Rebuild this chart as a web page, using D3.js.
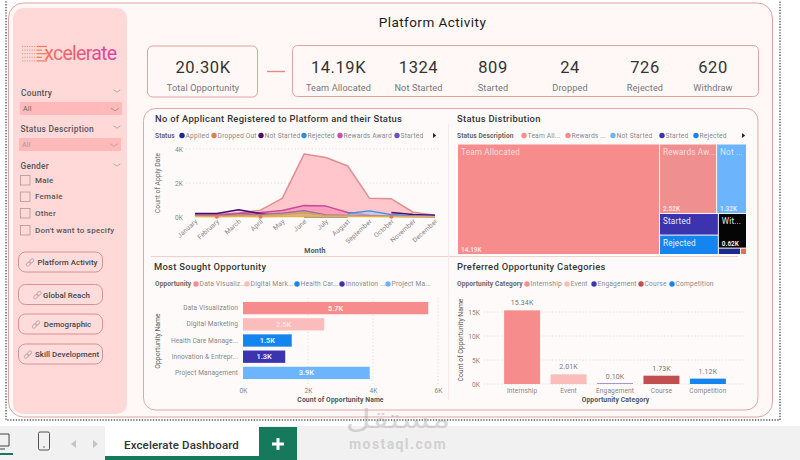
<!DOCTYPE html>
<html>
<head>
<meta charset="utf-8">
<title>Excelerate Dashboard</title>
<script src="https://cdn.jsdelivr.net/npm/d3@7"></script>
<style>
  html, body { margin: 0; padding: 0; background: #fff; overflow: hidden; }
  svg { display: block; font-family: Roboto, "Noto Sans", sans-serif; }
  .axis .domain { display: none; }
  .axis .tick line { display: none; }
  .axis text { fill: #858585; font-size: 6.6px; letter-spacing: .1px; font-family: Roboto, sans-serif; }
</style>
</head>
<body>
<svg id="board" width="800" height="460" viewBox="0 0 800 460"></svg>
<script>
// ---------- data ----------
const kpiTotal = { value: "20.30K", label: "Total Opportunity" };
const kpiValues = ["14.19K", "1324", "809", "24", "726", "620"];
const kpiLabels = ["Team Allocated", "Not Started", "Started", "Dropped", "Rejected", "Withdraw"];

const months = ["January","February","March","April","May","June","July","August","September","October","November","December"];
const teamAllocated = [0.13,0.14,0.24,0.4,1.1,3.7,3.5,3.0,1.1,1.07,0.28,0.1];
const rewardsAward  = [0.1,0.1,0.2,0.26,0.38,0.68,0.64,0.27,0.1,0.05,0.03,0.02];
const notStarted    = [0.2,0.2,0.42,0.2,0.05,null,null,null,null,0.26,0.14,0.1];
const rejected      = [null,null,null,null,null,null,null,0.2,0.36,0.14,0.06,0.03];
const started       = [0.07,0.07,0.1,0.15,0.22,0.38,0.12,0.1,0.06,0.04,0.03,0.02];
const withdrawn     = [0.06,0.06,0.08,0.1,0.16,0.24,0.1,0.08,0.06,0.05,0.04,0.03];
const applied       = [null,null,null,null,null,0.01,0.01,0.01,null,null,null,null];
const dropped       = [0.02,0.01,0.02,0.01,0.02,0.02,0.02,0.02,0.02,0.01,0.02,0.02];

const statusNames  = ["Team Allocated","Rewards Award","Not Started","Started","Rejected","Withdraw","Applied","Dropped Out"];
const statusValues = [14.19,2.52,1.32,0.809,0.726,0.62,0.09,0.024];
const statusTitles = ["Team Allocated","Rewards Aw...","Not ...","Started","Rejected","Wit...","",""];
const statusAmounts = ["14.19K","2.52K","1.32K","","","0.62K","",""];

const opportunityNames  = ["Data Visualization","Digital Marketing","Health Care Manage...","Innovation & Entrepr...","Project Management"];
const opportunityCounts = [5.7,2.5,1.5,1.3,3.9];

const categoryNames  = ["Internship","Event","Engagement","Course","Competition"];
const categoryCounts = [15.34,2.01,0.10,1.73,1.12];

const c = {
  team:"#f68c8c", rewards:"#ef8f8f", notStarted:"#6cb4fb", started:"#3c34ae", rejected:"#1484ef",
  withdraw:"#050505", applied:"#1e2a8c", dropped:"#d5774a",
  border:"#dca4a2", ink:"#333", soft:"#7a7a7a", mute:"#888"
};

const svg = d3.select("#board");
const defs = svg.append("defs");

// ---------- helpers ----------
function label(g, x, y, text, o = {}) {
  return g.append("text").attr("x", x).attr("y", y).text(text)
    .attr("text-anchor", o.anchor || "start")
    .attr("dominant-baseline", "central")
    .attr("font-size", o.size || 8)
    .attr("font-weight", o.weight || 400)
    .attr("letter-spacing", o.spacing === undefined ? 0.2 : o.spacing)
    .attr("fill", o.fill || c.ink)
    .attr("fill-opacity", o.opacity === undefined ? 1 : o.opacity);
}

function chevron(g, x, y, color, w = 5) {
  const h = w * 0.7;
  g.append("path").attr("d", d3.line()([[x - w, y - h / 2], [x, y + h / 2], [x + w, y - h / 2]]))
    .attr("fill", "none").attr("stroke", color).attr("stroke-width", 0.8);
}

function legend(title, titleX, y, names, colors, xs, arrowX) {
  const g = svg.append("g");
  label(g, titleX, y, title, { size: 6.6, weight: 700, fill: "#666", spacing: 0.1 });
  names.forEach((n, i) => {
    g.append("circle").attr("cx", xs[i]).attr("cy", y).attr("r", 2.7).attr("fill", colors[i]);
    label(g, xs[i] + 3.6, y, n, { size: 6.7, fill: "#8a8a8a", spacing: 0.15 });
  });
  if (arrowX) {
    g.append("path").attr("d", d3.line()([[arrowX, y - 2.6], [arrowX + 3.2, y], [arrowX, y + 2.6]]))
      .attr("fill", "#222");
  }
}

function styleAxis(sel) { sel.attr("class", "axis"); return sel; }

function grid(orient, scale, values, a, b) {
  const g = svg.append("g");
  g.selectAll("line").data(values).join("line")
    .attr(orient === "h" ? "x1" : "y1", a).attr(orient === "h" ? "x2" : "y2", b)
    .attr(orient === "h" ? "y1" : "x1", d => scale(d)).attr(orient === "h" ? "y2" : "x2", d => scale(d))
    .attr("stroke", "#d4d0d0").attr("stroke-width", 0.8).attr("stroke-dasharray", "1 2.4");
}

// ---------- page frame ----------
svg.append("rect").attr("width", 800).attr("height", 460).attr("fill", "#fff");
svg.append("rect").attr("x", 6).attr("y", -3).attr("width", 774).attr("height", 423)
  .attr("fill", "#fff").attr("stroke", "#555").attr("stroke-width", 1.4).attr("stroke-dasharray", "1.3 1.5");
svg.append("rect").attr("x", 8.5).attr("y", 3).attr("width", 764).attr("height", 414).attr("rx", 15)
  .attr("fill", "#fff8f7").attr("stroke", c.border).attr("stroke-width", 1);

// ---------- sidebar ----------
const side = svg.append("g");
side.append("rect").attr("x", 13).attr("y", 8).attr("width", 114).attr("height", 406).attr("rx", 10).attr("fill", "#ffd9d8");

const logoFill = defs.append("linearGradient").attr("id", "logoFill")
  .attr("gradientUnits", "userSpaceOnUse").attr("x1", 22).attr("x2", 118).attr("y1", 0).attr("y2", 0);
logoFill.append("stop").attr("offset", "0").attr("stop-color", "#f0814f");
logoFill.append("stop").attr("offset", ".55").attr("stop-color", "#ea5f72");
logoFill.append("stop").attr("offset", "1").attr("stop-color", "#d63fb0");

d3.range(5).forEach(i => {
  const y = 46.5 + i * 3.6;
  side.append("line").attr("x1", 22).attr("x2", 37).attr("y1", y).attr("y2", y)
    .attr("stroke", "#f08a5c").attr("stroke-width", 0.9).attr("stroke-dasharray", "1.2 1.2");
  side.append("line").attr("x1", 37).attr("x2", i % 2 === 0 ? 47 : 42).attr("y1", y).attr("y2", y)
    .attr("stroke", "#ee7a5a").attr("stroke-width", 1.2);
});
const logo = side.append("text").attr("x", 33).attr("y", 60).attr("font-size", 19.5)
  .attr("letter-spacing", -0.75).attr("fill", "url(#logoFill)");
logo.append("tspan").attr("fill-opacity", 0).text("E");
logo.append("tspan").attr("dx", 1).text("xcelerate");

const slicerText = "#555";
const slicerHead = { size: 8.4, weight: 500, fill: slicerText, spacing: 0.25 };
label(side, 21, 92.5, "Country", slicerHead);
chevron(side, 117, 91, "#b09a9a", 3.5);
side.append("rect").attr("x", 20).attr("y", 102).attr("width", 102).attr("height", 13).attr("fill", "#ffb9b9");
label(side, 23, 109, "All", { size: 7, fill: "#666" });
chevron(side, 115, 109.5, "#988", 4);

label(side, 20.5, 128.5, "Status Description", slicerHead);
chevron(side, 117, 127, "#b09a9a", 3.5);
side.append("rect").attr("x", 19).attr("y", 138).attr("width", 102).attr("height", 13).attr("fill", "#ffb9b9");
label(side, 22, 144.5, "All", { size: 7, fill: "#999" });
chevron(side, 114, 145, "#b99", 4);

label(side, 20.5, 166, "Gender", slicerHead);
chevron(side, 117, 165, "#b09a9a", 3.5);
const genderOptions = ["Male", "Female", "Other", "Don't want to specify"];
const genderRows = [180, 196.5, 213, 230];
genderOptions.forEach((t, i) => {
  side.append("rect").attr("x", 20.5).attr("y", genderRows[i] - 4.5).attr("width", 9.5).attr("height", 9.5)
    .attr("fill", "none").attr("stroke", "#a98c8c").attr("stroke-width", 0.7);
  label(side, 35, genderRows[i], t, { size: 8, weight: 500, fill: "#555", spacing: 0.25 });
});

function linkIcon(g, x, y) {
  const k = g.append("g").attr("transform", `translate(${x},${y}) rotate(-45)`)
    .attr("fill", "none").attr("stroke", "#c9a9ae").attr("stroke-width", 1);
  k.append("rect").attr("x", -4.6).attr("y", -1.5).attr("width", 5).attr("height", 3).attr("rx", 1.5);
  k.append("rect").attr("x", -0.4).attr("y", -1.5).attr("width", 5).attr("height", 3).attr("rx", 1.5);
}
const navLabels = ["Platform Activity", "Global Reach", "Demographic", "Skill Development"];
const navRows = [252, 284.5, 314, 344];
const navText = [67.5, 66.5, 67.5, 67];
const navIcon = [30, 37.5, 36, 28];
navLabels.forEach((t, i) => {
  side.append("rect").attr("x", 18.5).attr("y", navRows[i]).attr("width", 84).attr("height", 20).attr("rx", 7)
    .attr("fill", "#ffdcdc").attr("stroke", "#cf8b8b").attr("stroke-width", 0.9);
  linkIcon(side, navIcon[i], navRows[i] + 10.5);
  label(side, navText[i], navRows[i] + 10.5, t, { anchor: "middle", size: 7.9, weight: 500, fill: "#444", spacing: 0.05 });
});

// ---------- heading and KPI cards ----------
label(svg, 432.5, 22, "Platform Activity", { anchor: "middle", size: 13.5, weight: 400, fill: "#1c1c1c", spacing: 0.45 });

const kpi = svg.append("g");
const kpiValueStyle = { anchor: "middle", size: 16.5, weight: 400, fill: "#333", spacing: 0.55 };
const kpiLabelStyle = { anchor: "middle", size: 9.2, fill: "#777", spacing: 0.1 };
kpi.append("rect").attr("x", 147.5).attr("y", 46).attr("width", 110).attr("height", 51).attr("rx", 5)
  .attr("fill", "none").attr("stroke", "#d99a98").attr("stroke-width", 0.9);
kpi.append("line").attr("x1", 267).attr("x2", 285).attr("y1", 71.5).attr("y2", 71.5).attr("stroke", "#dc8d88").attr("stroke-width", 1.4);
kpi.append("rect").attr("x", 292.5).attr("y", 45.5).attr("width", 466).attr("height", 51).attr("rx", 5)
  .attr("fill", "none").attr("stroke", "#d99a98").attr("stroke-width", 0.9);
label(kpi, 203, 67.5, kpiTotal.value, kpiValueStyle);
label(kpi, 203, 87, kpiTotal.label, kpiLabelStyle);
const kpiX = [338.5, 418.5, 493, 570, 645, 713];
kpiValues.forEach((v, i) => {
  label(kpi, kpiX[i], 67.5, v, kpiValueStyle);
  label(kpi, kpiX[i], 87, kpiLabels[i], kpiLabelStyle);
});

// ---------- chart panel ----------
svg.append("rect").attr("x", 143.5).attr("y", 108.5).attr("width", 614.5).attr("height", 301.5).attr("rx", 12)
  .attr("fill", "#fffafa").attr("stroke", "#d9a09e").attr("stroke-width", 0.9);
svg.append("line").attr("x1", 151).attr("x2", 738).attr("y1", 256.5).attr("y2", 256.5).attr("stroke", "#efc9c7").attr("stroke-width", 0.9);
svg.append("line").attr("x1", 448.5).attr("x2", 448.5).attr("y1", 124).attr("y2", 400).attr("stroke", "#f5e6e5").attr("stroke-width", 0.8);

const headingStyle = { size: 9.4, weight: 500, fill: "#333", spacing: 0.3 };
label(svg, 155, 118, "No of Applicant Registered to Platform and their Status", headingStyle);
label(svg, 457, 118, "Status Distribution", headingStyle);
label(svg, 154, 266, "Most Sought Opportunity", headingStyle);
label(svg, 457, 266, "Preferred Opportunity Categories", headingStyle);

// ---------- monthly status area chart ----------
legend("Status", 155, 135.5,
  ["Applied","Dropped Out","Not Started","Rejected","Rewards Award","Started"],
  [c.applied,"#d9804c","#4a0a6e","#2b8be0","#c94cb2","#6a4fc0"],
  [182, 214, 261, 304, 340, 397], 433);

const xMonth = d3.scalePoint().domain(months).range([195, 435]);
const yCount = d3.scaleLinear().domain([0, 4]).range([217, 149]);
grid("h", yCount, [2, 4], 186, 441);

const areaSeries = [
  { values: teamAllocated, line: "#df8f8f", fill: "#ffc6cb", fo: 1, w: 1.5 },
  { values: rewardsAward, line: "#c94b9b", fill: "#f99ab9", fo: .9, w: 1.5 },
  { values: notStarted, line: "#4a0a6e", fill: "#9a5a9a", fo: .18, w: 1.5 },
  { values: rejected, line: "#3f8fdf", fill: "#a9cdf3", fo: .55, w: 1.5 },
  { values: started, line: "#9a6aa0", fill: "#e0a090", fo: .6, w: 1.3 },
  { values: withdrawn, line: "#c9a35c", fill: "#dcb56f", fo: .9, w: 1.2 },
  { values: applied, line: "#2a2a6a", fill: "#2a2a6a", fo: .6, w: 1.4 },
  { values: dropped, line: "#e5b04c", fill: "#e5b04c", fo: .8, w: 1.4 }
];
const areaMarks = svg.append("g");
areaSeries.forEach(s => {
  const row = months.map((m, i) => ({ m, v: s.values[i] }));
  const defined = d => d.v !== null;
  areaMarks.append("path").datum(row)
    .attr("d", d3.area().defined(defined).x(d => xMonth(d.m)).y0(yCount(0)).y1(d => yCount(d.v)))
    .attr("fill", s.fill).attr("fill-opacity", s.fo);
  areaMarks.append("path").datum(row)
    .attr("d", d3.line().defined(defined).x(d => xMonth(d.m)).y(d => yCount(d.v)))
    .attr("fill", "none").attr("stroke", s.line).attr("stroke-width", s.w).attr("stroke-linejoin", "round");
});
areaMarks.selectAll("circle").data(["February", "April", "October"]).join("circle")
  .attr("cx", d => xMonth(d)).attr("cy", d => yCount(dropped[months.indexOf(d)]))
  .attr("r", 2).attr("fill", "#e8746a");

styleAxis(svg.append("g").attr("transform", "translate(183,0)"))
  .call(d3.axisLeft(yCount).tickValues([0, 2, 4]).tickSize(0).tickPadding(0).tickFormat(d => d + "K"));
const monthAxis = styleAxis(svg.append("g").attr("transform", "translate(0,221)"))
  .call(d3.axisBottom(xMonth).tickSize(0).tickPadding(0));
monthAxis.selectAll(".tick text").attr("text-anchor", "end").attr("dy", "0.35em").attr("y", 0)
  .attr("transform", "rotate(-42) translate(1,0)");
label(svg, 315, 251, "Month", { anchor: "middle", size: 7, weight: 700, fill: "#555" });
label(svg, 0, 0, "Count of Apply Date", { anchor: "middle", size: 6.8, fill: "#666", spacing: 0 })
  .attr("transform", "translate(158,183) rotate(-90)");

// ---------- status treemap ----------
legend("Status Description", 457, 135.5,
  ["Team All...","Rewards ...","Not Started","Started","Rejected"],
  [c.team,c.rewards,c.notStarted,c.started,c.rejected],
  [524, 568, 613, 662, 696], 742);

const leaf = i => ({ name: statusNames[i], value: statusValues[i], index: i });
const statusTree = { split: "dice", children: [
  leaf(0),
  { split: "slice", children: [
    { split: "dice", children: [leaf(1), leaf(2)] },
    { split: "dice", children: [
      { split: "slice", children: [leaf(3), leaf(4)] },
      { split: "slice", children: [leaf(5), { split: "dice", children: [leaf(6), leaf(7)] }] }
    ] }
  ] }
] };
const statusRoot = d3.hierarchy(statusTree).sum(d => d.value || 0);
d3.treemap()
  .tile((node, x0, y0, x1, y1) => (node.data.split === "dice" ? d3.treemapDice : d3.treemapSlice)(node, x0, y0, x1, y1))
  .size([288, 109.5])
  .paddingInner(1)(statusRoot);

const tileColors = [c.team, c.rewards, c.notStarted, c.started, c.rejected, c.withdraw, c.applied, c.dropped];
const cells = svg.append("g").attr("transform", "translate(458,144.5)")
  .selectAll("g").data(statusRoot.leaves()).join("g")
  .attr("transform", d => `translate(${d.x0},${d.y0})`);
cells.append("rect")
  .attr("width", d => d.x1 - d.x0).attr("height", d => d.y1 - d.y0)
  .attr("fill", d => tileColors[d.data.index]);
cells.each(function (d) {
  const g = d3.select(this), i = d.data.index, dark = i >= 3;
  if (statusTitles[i]) label(g, 3, 7.5, statusTitles[i], { size: 8.2, fill: "#fff", opacity: dark ? .95 : .72, spacing: 0.15 });
  if (statusAmounts[i]) label(g, 3, d.y1 - d.y0 - 4, statusAmounts[i], { size: 6.4, weight: 700, fill: "#fff", opacity: i === 5 ? .95 : .75, spacing: 0 });
});

// ---------- opportunity bars ----------
legend("Opportunity", 155, 284,
  ["Data Visualiz...","Digital Mark...","Health Car...","Innovation ...","Project Ma..."],
  [c.team,"#fbbcbc",c.rejected,c.started,c.notStarted],
  [196, 247, 297, 342, 388]);

const xOpp = d3.scaleLinear().domain([0, 6]).range([243, 438]);
const yOpp = d3.scaleBand().domain(opportunityNames).range([300, 381]).paddingInner(0.24).paddingOuter(0.12);
grid("v", xOpp, [2, 4, 6], 298, 386);
const oppColors = [c.team, "#fbbcbc", c.rejected, c.started, c.notStarted];
const oppBars = svg.append("g").selectAll("g").data(opportunityNames).join("g");
oppBars.append("rect")
  .attr("x", xOpp(0)).attr("y", d => yOpp(d))
  .attr("width", (d, i) => xOpp(opportunityCounts[i]) - xOpp(0))
  .attr("height", yOpp.bandwidth())
  .attr("fill", (d, i) => oppColors[i]);
oppBars.each(function (d, i) {
  label(d3.select(this), (xOpp(0) + xOpp(opportunityCounts[i])) / 2, yOpp(d) + yOpp.bandwidth() / 2,
    opportunityCounts[i].toFixed(1) + "K",
    { anchor: "middle", size: 7.4, weight: 700, fill: "#fff", opacity: i === 1 ? .6 : .88, spacing: 0 });
});
styleAxis(svg.append("g").attr("transform", "translate(238,0)"))
  .call(d3.axisLeft(yOpp).tickSize(0).tickPadding(0));
styleAxis(svg.append("g").attr("transform", "translate(0,388)"))
  .call(d3.axisBottom(xOpp).tickValues([0, 2, 4, 6]).tickSize(0).tickPadding(0).tickFormat(d => d + "K"));
label(svg, 340.5, 399.5, "Count of Opportunity Name", { anchor: "middle", size: 6.8, weight: 700, fill: "#555", spacing: 0.1 });
label(svg, 0, 0, "Opportunity Name", { anchor: "middle", size: 6.8, fill: "#555", spacing: 0 })
  .attr("transform", "translate(158,341) rotate(-90)");

// ---------- opportunity category columns ----------
legend("Opportunity Category", 457, 284,
  categoryNames, [c.team, "#fbbcbc", c.started, "#c14f50", c.rejected],
  [527, 567, 594, 641, 672]);

const xCat = d3.scaleBand().domain(categoryNames).range([499, 731]).paddingInner(0.225).paddingOuter(0.11);
const yCat = d3.scaleLinear().domain([0, 15]).range([384, 312]);
grid("h", yCat, [0, 5, 10, 15], 484, 745);
const catColors = [c.team, "#fbbcbc", c.started, "#c14f50", c.rejected];
const catBars = svg.append("g").selectAll("g").data(categoryNames).join("g");
catBars.append("rect")
  .attr("x", d => xCat(d)).attr("y", (d, i) => yCat(categoryCounts[i]))
  .attr("width", xCat.bandwidth())
  .attr("height", (d, i) => yCat(0) - yCat(categoryCounts[i]))
  .attr("fill", (d, i) => catColors[i]);
catBars.each(function (d, i) {
  label(d3.select(this), xCat(d) + xCat.bandwidth() / 2, yCat(categoryCounts[i]) - 7,
    categoryCounts[i].toFixed(2) + "K", { anchor: "middle", size: 7, fill: "#777", spacing: 0.1 });
});
styleAxis(svg.append("g").attr("transform", "translate(480,0)"))
  .call(d3.axisLeft(yCat).tickValues([0, 5, 10, 15]).tickSize(0).tickPadding(0).tickFormat(d => d + "K"));
styleAxis(svg.append("g").attr("transform", "translate(0,388)"))
  .call(d3.axisBottom(xCat).tickSize(0).tickPadding(0));
label(svg, 615.5, 399.5, "Opportunity Category", { anchor: "middle", size: 6.8, weight: 700, fill: "#555", spacing: 0.1 });
label(svg, 0, 0, "Count of Opportunity Name", { anchor: "middle", size: 6.8, fill: "#555", spacing: 0 })
  .attr("transform", "translate(461,340) rotate(-90)");

// ---------- workbook tab strip ----------
const strip = svg.append("g");
strip.append("rect").attr("x", 0).attr("y", 426).attr("width", 800).attr("height", 34).attr("fill", "#f1f1f1");
strip.append("rect").attr("x", 105).attr("y", 426).attr("width", 154).attr("height", 31).attr("fill", "#fff");
strip.append("rect").attr("x", 105).attr("y", 456).attr("width", 154).attr("height", 4).attr("fill", "#17795c");
strip.append("rect").attr("x", 259).attr("y", 427).attr("width", 38).attr("height", 33).attr("fill", "#17795c");
strip.append("path").attr("d", "M278 438v12M272 444h12").attr("stroke", "#fff").attr("stroke-width", 3);
label(strip, 181.5, 444.5, "Excelerate Dashboard", { anchor: "middle", size: 11.5, weight: 500, fill: "#333", spacing: 0.15 });

strip.append("path").attr("d", "M-2 434H9V446H-2").attr("fill", "none").attr("stroke", "#444").attr("stroke-width", 1);
strip.append("path").attr("d", "M-2 449H5").attr("stroke", "#444").attr("stroke-width", 1);
strip.append("rect").attr("x", 0).attr("y", 453).attr("width", 13).attr("height", 2).attr("fill", "#17795c");
strip.append("rect").attr("x", 38.5).attr("y", 432).attr("width", 11).attr("height", 18).attr("rx", 1.5)
  .attr("fill", "none").attr("stroke", "#555").attr("stroke-width", 1);
strip.append("circle").attr("cx", 44).attr("cy", 447).attr("r", .8).attr("fill", "#555");
strip.append("path").attr("d", "M76 440l-5 4 5 4z").attr("fill", "#c4c4c4");
strip.append("path").attr("d", "M93 440l5 4-5 4z").attr("fill", "#c4c4c4");

// ---------- site mark ----------
const mark = svg.append("g").attr("fill", "#a2a2a2").attr("fill-opacity", .42);
mark.append("text").attr("transform", "translate(398,428) scale(1.35,1)").attr("text-anchor", "middle").attr("font-size", 26)
  .attr("font-family", "DejaVu Sans").attr("direction", "rtl").text("مستقل");
mark.append("text").attr("x", 398).attr("y", 449).attr("text-anchor", "middle").attr("font-size", 14)
  .attr("font-weight", 700).attr("font-family", "Roboto").attr("letter-spacing", 1.4).text("mostaql.com");
</script>
</body>
</html>
